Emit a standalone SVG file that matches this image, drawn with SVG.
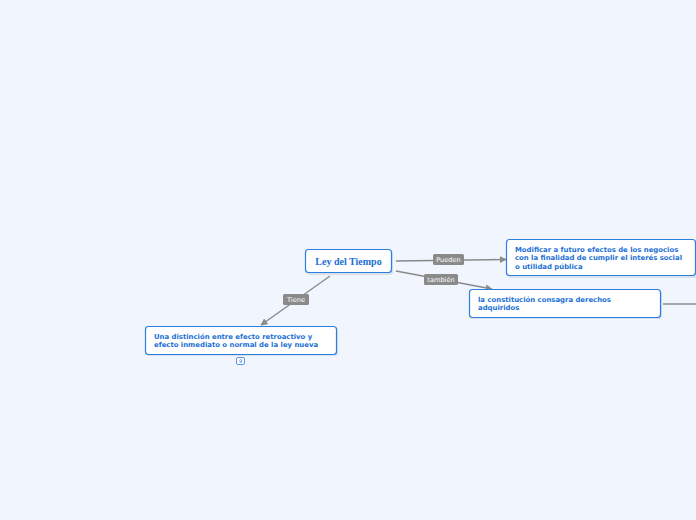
<svg xmlns="http://www.w3.org/2000/svg" width="696" height="520" viewBox="0 0 696 520">
<defs>
<marker id="arr" viewBox="0 0 10 10" refX="9" refY="5" markerWidth="7" markerHeight="7" orient="auto" markerUnits="userSpaceOnUse">
<path d="M0,0 L10,5 L0,10 z" fill="#8a8a8a"/>
</marker>
<style>
.box{fill:#ffffff;stroke:#2a7fe0;stroke-width:1.2}
.shadow{fill:#c9d3e3;opacity:0.6}
.t{font-family:"DejaVu Sans",Verdana,sans-serif;font-weight:bold;font-size:6.9px;fill:#1a6fd6}
.c{stroke:#8a8a8a;stroke-width:1.4;fill:none}
.lb{fill:#8a8a8a}
.lt{font-family:"DejaVu Sans",Verdana,sans-serif;font-size:6.6px;fill:#ffffff;text-anchor:middle}
</style>
</defs>
<rect width="696" height="520" fill="#f1f5fd"/>
<g id="connectors">
<line class="c" x1="396" y1="261" x2="506" y2="259.5" marker-end="url(#arr)"/>
<line class="c" x1="396" y1="271" x2="492" y2="289" marker-end="url(#arr)"/>
<line class="c" x1="330" y1="276" x2="261" y2="325" marker-end="url(#arr)"/>
<line class="c" x1="663" y1="304" x2="696" y2="304"/>
<rect class="lb" x="433" y="254" width="31" height="11" rx="1.5"/>
<text class="lt" x="448.5" y="262">Pueden</text>
<rect class="lb" x="424" y="274" width="34" height="11" rx="1.5"/>
<text class="lt" x="441" y="282">también</text>
<rect class="lb" x="283" y="294" width="26" height="11" rx="1.5"/>
<text class="lt" x="296" y="302">Tiene</text>
</g>
<g id="center">
<rect class="shadow" x="307" y="251" width="86" height="24" rx="3"/>
<rect class="box" x="305.5" y="249.5" width="86" height="23" rx="3"/>
<text x="348.5" y="265" text-anchor="middle" font-family="'Liberation Serif','Times New Roman',serif" font-weight="bold" font-size="10px" fill="#1a6fd6">Ley del Tiempo</text>
</g>
<g id="node-modificar">
<rect class="shadow" x="508" y="241" width="190" height="37" rx="3"/>
<rect class="box" x="506.5" y="239.5" width="189" height="36" rx="3"/>
<text class="t" x="515" y="251.5">Modificar a futuro efectos de los negocios</text>
<text class="t" x="515" y="260">con la finalidad de cumplir el interés social</text>
<text class="t" x="515" y="268.5">o utilidad pública</text>
</g>
<g id="node-constitucion">
<rect class="shadow" x="470" y="291" width="192" height="28" rx="3"/>
<rect class="box" x="469.5" y="289.5" width="191" height="28" rx="3"/>
<text class="t" x="478" y="301.5">la constitución consagra derechos</text>
<text class="t" x="478" y="310">adquiridos</text>
</g>
<g id="node-distincion">
<rect class="shadow" x="146" y="327" width="192" height="29" rx="3"/>
<rect class="box" x="145.5" y="326.5" width="191" height="28" rx="3"/>
<text class="t" x="154" y="338.5">Una distinción entre efecto retroactivo y</text>
<text class="t" x="154" y="347">efecto inmediato o normal de la ley nueva</text>
<rect x="236.5" y="357.5" width="8" height="7" rx="1.5" fill="#ffffff" stroke="#2a7fe0" stroke-width="0.8"/>
<text x="240.5" y="363" text-anchor="middle" font-family="'DejaVu Sans',sans-serif" font-size="5px" fill="#1a6fd6">9</text>
</g>
</svg>
